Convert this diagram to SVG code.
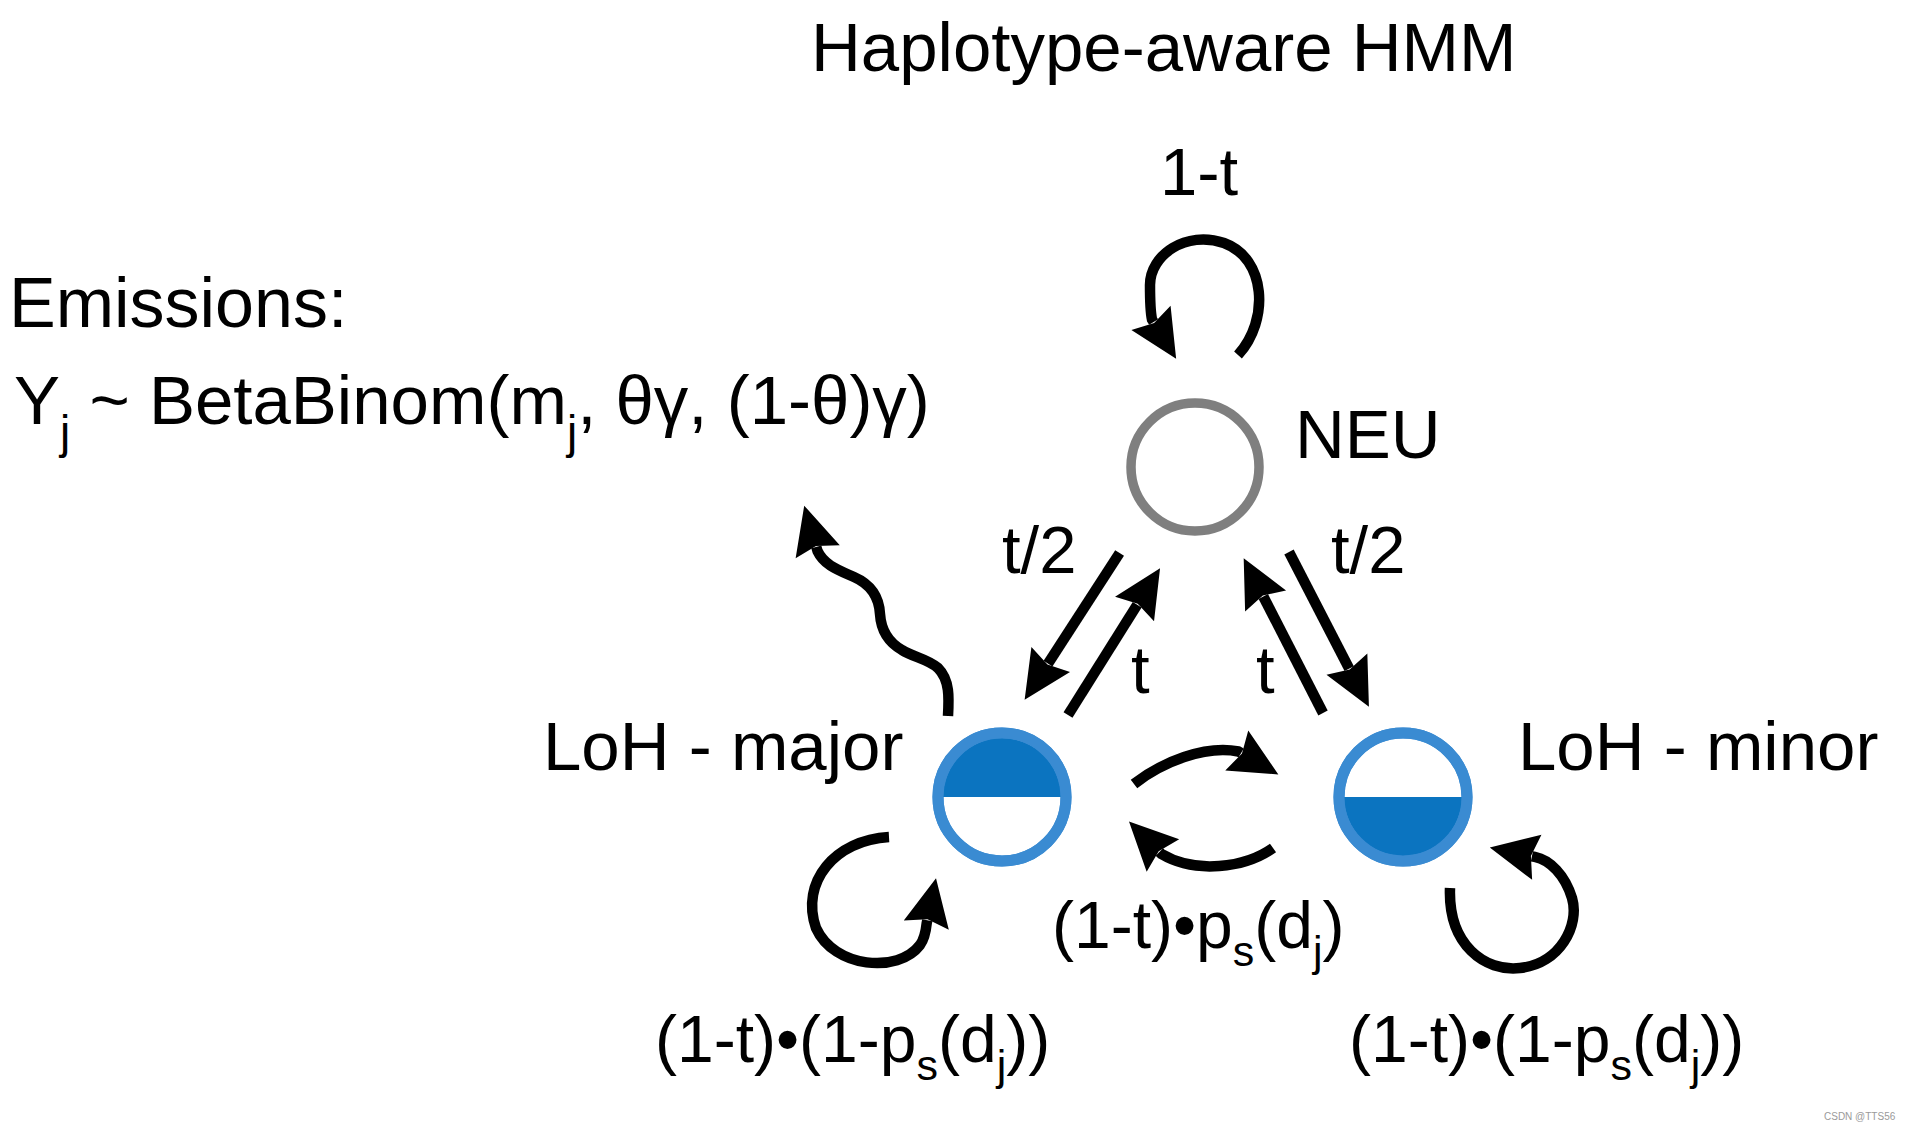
<svg xmlns="http://www.w3.org/2000/svg" width="1912" height="1132" viewBox="0 0 1912 1132">
<style>
  text { font-family: "Liberation Sans", Arial, Helvetica, sans-serif; fill: #000; }
  .title { font-size: 69px; }
  .big { font-size: 69px; }
  .lbl { font-size: 67px; }
  .eq { font-size: 66px; }
  .edge { fill: none; stroke: #000; stroke-width: 10.5; marker-end: url(#ah); }
  .ring { fill: #fff; stroke: #3a8bd2; stroke-width: 11; }
  .half { fill: #0b74c0; }
  .wm { font-size: 10px; fill: #9a9a9a; }
</style>
<defs>
  <marker id="ah" markerUnits="userSpaceOnUse" markerWidth="48" markerHeight="46" viewBox="0 0 48 46" refX="5" refY="23" orient="auto" overflow="visible">
    <path d="M0,0 L48,23 L0,46 L6,23 z" fill="#000"/>
  </marker>
</defs>
<rect width="1912" height="1132" fill="#fff"/>

<text class="title" x="811" y="71">Haplotype-aware HMM</text>

<g id="emissions">
  <text x="9" y="327" style="font-size:70px">Emissions:</text>
  <text x="14" y="424" style="font-size:69px">Y<tspan font-size="46" dy="24">j</tspan><tspan dy="-24"> ~ BetaBinom(m</tspan><tspan font-size="46" dy="24">j</tspan><tspan dy="-24">, θγ, (1-θ)γ)</tspan></text>
</g>

<g id="neu">
  <circle cx="1195" cy="467" r="64" fill="#fff" stroke="#7f7f7f" stroke-width="9.5"/>
  <text class="big" x="1295" y="458">NEU</text>
</g>

<g id="loh-major">
  <circle class="ring" cx="1002" cy="797" r="64"/>
  <path class="half" d="M943,797 A59,59 0 0 1 1061,797 Z"/>
  <circle cx="1002" cy="797" r="64" fill="none" stroke="#3a8bd2" stroke-width="11"/>
  <text class="big" x="543" y="770">LoH - major</text>
</g>

<g id="loh-minor">
  <circle class="ring" cx="1403" cy="797" r="64"/>
  <path class="half" d="M1344,797 A59,59 0 0 0 1462,797 Z"/>
  <circle cx="1403" cy="797" r="64" fill="none" stroke="#3a8bd2" stroke-width="11"/>
  <text class="big" x="1518" y="770">LoH - minor</text>
</g>

<g id="connectors">
  <!-- NEU self loop -->
  <path class="edge" d="M1238,355 C1270,320 1266,258 1224,243 C1186,230 1150,255 1150,285 C1150,300 1150,310 1152,319.5 L1153.6,322.1"/>
  <!-- emission wavy arrow -->
  <path class="edge" stroke-width="11" d="M948,716 C949,698 950,680 938,668 C928,659 913,657 902,650 C888,642 881,630 880,614 C879,596 870,584 854,577 C838,570 824,565 817.5,551 L816.3,546.9"/>
  <!-- NEU -> major -->
  <path class="edge" d="M1119.6,553 L1048,663.6"/>
  <!-- major -> NEU -->
  <path class="edge" d="M1068,715 L1137.2,604.7"/>
  <!-- minor -> NEU -->
  <path class="edge" d="M1323,713 L1263.3,596.5"/>
  <!-- NEU -> minor -->
  <path class="edge" d="M1289,552 L1349.2,668.6"/>
  <!-- major self loop -->
  <path class="edge" d="M889,837 C835,840 800,882 816,928 C834,968 898,974 920,945 C925,938 926,930 926.7,923.2 L927.3,920.3"/>
  <!-- minor self loop -->
  <path class="edge" d="M1450,888 C1448,945 1485,972 1520,968 C1560,964 1580,925 1572,898 C1565,875 1550,860 1534.8,856.9 L1531.9,856.3"/>
  <!-- major -> minor -->
  <path class="edge" d="M1134,784 C1162,762 1205,745 1238.5,751.5 L1241.1,753"/>
  <!-- minor -> major -->
  <path class="edge" d="M1273,848 C1245,868 1195,874 1161.5,854.1 L1159.4,852"/>

  <!-- edge labels -->
  <text class="lbl" x="1160" y="195">1-t</text>
  <text class="lbl" x="1002" y="573">t/2</text>
  <text class="lbl" x="1331" y="573">t/2</text>
  <text class="lbl" x="1131" y="693">t</text>
  <text class="lbl" x="1256" y="693">t</text>
  <text class="eq" x="1052" y="948">(1-t)•p<tspan font-size="43" dy="18">s</tspan><tspan dy="-18">(d</tspan><tspan font-size="43" dy="18">j</tspan><tspan dy="-18">)</tspan></text>
  <text class="eq" x="655" y="1062">(1-t)•(1-p<tspan font-size="43" dy="18">s</tspan><tspan dy="-18">(d</tspan><tspan font-size="43" dy="18">j</tspan><tspan dy="-18">))</tspan></text>
  <text class="eq" x="1349" y="1062">(1-t)•(1-p<tspan font-size="43" dy="18">s</tspan><tspan dy="-18">(d</tspan><tspan font-size="43" dy="18">j</tspan><tspan dy="-18">))</tspan></text>
</g>

<text class="wm" x="1824" y="1120">CSDN @TTS56</text>
</svg>
